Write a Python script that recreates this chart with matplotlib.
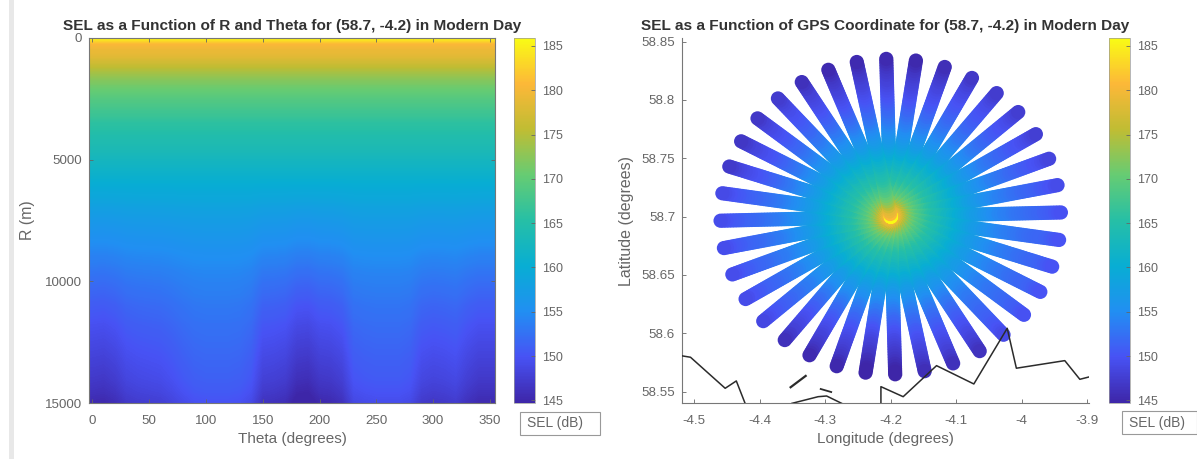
import numpy as np
import matplotlib
matplotlib.use("Agg")
import matplotlib.pyplot as plt
from matplotlib.colors import LinearSegmentedColormap
from matplotlib.patches import Rectangle

plt.rcParams["font.family"] = ["Liberation Sans", "DejaVu Sans"]

FIG_W = 1197
FIG_H = 459

theta_deg = [0, 10, 20, 30, 40, 50, 60, 70, 80, 90, 100, 110, 120, 130, 140, 150, 160, 170,
             180, 190, 200, 210, 220, 230, 240, 250, 260, 270, 280, 290, 300, 310, 320, 330, 340, 350]
range_m = [0, 250, 500, 750, 1000, 1250, 1500, 1750, 2000, 2250, 2500, 2750, 3000, 3250, 3500,
           3750, 4000, 4250, 4500, 4750, 5000, 5250, 5500, 5750, 6000, 6250, 6500, 6750, 7000,
           7250, 7500, 7750, 8000, 8250, 8500, 8750, 9000, 9250, 9500, 9750, 10000, 10250, 10500,
           10750, 11000, 11250, 11500, 11750, 12000, 12250, 12500, 12750, 13000, 13250, 13500,
           13750, 14000, 14250, 14500, 14750, 15000]

# SEL along a typical bearing
sel_by_range = [186, 180.6, 179.3, 178.5, 177, 175.2, 173.6, 172.2, 171, 170, 169, 168.3, 167.4, 166.8, 165.8,
                165.4, 164.6, 164.2, 163.7, 163.2, 162.5, 162, 161.4, 160.8, 160.2, 159.7, 159.2, 158.7, 158.1,
                157.7, 157.2, 156.8, 156.4, 156, 155.6, 155.2, 154.8, 154.5, 154.1, 153.8, 153.5, 153.2, 153,
                152.7, 152.4, 152.2, 152, 151.7, 151.5, 151.3, 151.1, 150.9, 150.7, 150.5, 150.3, 150.1, 149.9,
                149.6, 149.3, 148.9, 148.5]
# how strongly the bearing differences show at each range
bearing_weight = [0, 0, 0, 0, 0, 0, 0, 0, 0, 0, 0, 0, 0, 0, 0,
                  0, 0, 0, 0, 0, 0, 0, 0, 0, 0.02, 0.04, 0.06, 0.08, 0.1,
                  0.12, 0.14, 0.16, 0.18, 0.2, 0.22, 0.25, 0.28, 0.3, 0.33, 0.36, 0.4, 0.43, 0.47,
                  0.5, 0.53, 0.56, 0.59, 0.62, 0.65, 0.68, 0.71, 0.74, 0.77, 0.8, 0.83,
                  0.86, 0.89, 0.92, 0.95, 0.98, 1]
bearing_offset = [-3.2, -3.4, -2.8, -1.6, -1.2, -1, -0.8, -0.2, 0.6, 1.2, 1.4, 1.4, 1.4, 1.2, 0.4, -2.2, -2.4, -2.8,
                  -4.4, -4.6, -3.4, -3.2, -2.4, 0.2, 0.6, 0.8, 0.8, 0.8, 0.4, -1.4, -1.8, -1.6, -1.2, -2.4, -3.2, -3.2]

coast_main_lon = [-4.518, -4.506, -4.453, -4.436, -4.423]
coast_main_lat = [58.5806, 58.5795, 58.5529, 58.5592, 58.5406]
coast_bay_lon = [-4.351, -4.311, -4.298, -4.275]
coast_bay_lat = [58.540, 58.5457, 58.5463, 58.540]
islet_a_lon = [-4.353, -4.330]
islet_a_lat = [58.5538, 58.5635]
islet_b_lon = [-4.307, -4.291]
islet_b_lat = [58.5523, 58.5497]
coast_east_lon = [-4.215, -4.215, -4.181, -4.130, -4.073, -4.022, -4.008, -3.934, -3.911, -3.895]
coast_east_lat = [58.5406, 58.5543, 58.5457, 58.5723, 58.5566, 58.6043, 58.5701, 58.5766, 58.5606, 58.5629]

sel_ticks = [145, 150, 155, 160, 165, 170, 175, 180, 185]
theta_ticks = [0, 50, 100, 150, 200, 250, 300, 350]
range_ticks = [0, 5000, 10000, 15000]
lon_ticks = [-4.5, -4.4, -4.3, -4.2, -4.1, -4, -3.9]
lon_labels = ["-4.5", "-4.4", "-4.3", "-4.2", "-4.1", "-4", "-3.9"]
lat_ticks = [58.55, 58.6, 58.65, 58.7, 58.75, 58.8, 58.85]
lat_labels = ["58.55", "58.6", "58.65", "58.7", "58.75", "58.8", "58.85"]

SOURCE_LAT = 58.7
SOURCE_LON = -4.2
SEL_MIN = 144.7
SEL_MAX = 185.9
TEXT_GREY = "#666666"
EDGE_GREY = "#777777"

parula = LinearSegmentedColormap.from_list("parula_like", [
    (0.2422, 0.1504, 0.6603),
    (0.2810, 0.3228, 0.9579),
    (0.1300, 0.5600, 0.9500),
    (0.0300, 0.6800, 0.8300),
    (0.1500, 0.7500, 0.6500),
    (0.4000, 0.8000, 0.4500),
    (0.7500, 0.7400, 0.2000),
    (0.9900, 0.7200, 0.2200),
    (0.9769, 0.9839, 0.0805),
])


def axes_px(fig, left, top, right, bottom):
    return fig.add_axes([left / FIG_W, 1 - bottom / FIG_H, (right - left) / FIG_W, (bottom - top) / FIG_H])


def style_axes(ax):
    ax.tick_params(direction="in", length=3, width=0.6, colors=TEXT_GREY, labelsize=9.6, pad=5)
    ax.tick_params(axis="x", pad=9)
    for spine in ax.spines.values():
        spine.set_color(EDGE_GREY)
        spine.set_linewidth(0.8)


def add_colorbar(fig, mesh, left, right):
    cax = axes_px(fig, left, 38, right, 403)
    cbar = fig.colorbar(mesh, cax=cax, ticks=sel_ticks)
    cbar.ax.tick_params(direction="in", length=3, width=0.6, colors=TEXT_GREY, labelsize=9, pad=5)
    cbar.outline.set_edgecolor("#999999")
    cbar.outline.set_linewidth(0.5)


def add_unit_box(fig, left, top, right, bottom):
    fig.add_artist(Rectangle((left / FIG_W, 1 - bottom / FIG_H), (right - left) / FIG_W, (bottom - top) / FIG_H,
                             transform=fig.transFigure, facecolor="white", edgecolor="#999999", linewidth=0.8))
    fig.text((left + 7) / FIG_W, 1 - (top + bottom) / 2 / FIG_H, "SEL (dB)", color=TEXT_GREY,
             fontsize=10, va="center", ha="left")


def main():
    sel = np.array(sel_by_range)[:, None] + np.array(bearing_weight)[:, None] * np.array(bearing_offset)[None, :]

    fig = plt.figure(figsize=(FIG_W / 100, FIG_H / 100), dpi=100)
    fig.add_artist(Rectangle((9 / FIG_W, 0), 5 / FIG_W, 1, transform=fig.transFigure,
                             facecolor="#e8e8e8", edgecolor="none"))

    # left panel
    ax1 = axes_px(fig, 89, 38, 495, 403)
    image = ax1.imshow(sel, cmap=parula, vmin=SEL_MIN, vmax=SEL_MAX, aspect="auto", interpolation="bilinear",
                       extent=(-5, 355, 15125, -125))
    ax1.set_xlim(-3, 354.5)
    ax1.set_ylim(15000, 0)
    ax1.set_xticks(theta_ticks)
    ax1.set_yticks(range_ticks)
    style_axes(ax1)
    ax1.tick_params(top=True, right=True)
    ax1.set_title("SEL as a Function of R and Theta for (58.7, -4.2) in Modern Day", fontsize=11.1,
                  fontweight="bold", color="#333333", pad=6)
    ax1.set_xlabel("Theta (degrees)", fontsize=11, color=TEXT_GREY, labelpad=3)
    ax1.set_ylabel("R (m)", fontsize=11.4, color=TEXT_GREY, labelpad=7)
    add_colorbar(fig, image, 514, 535)
    add_unit_box(fig, 520, 412, 600, 435)

    # right panel: one spoke of markers per bearing
    ax2 = axes_px(fig, 682, 38, 1089, 403)
    bearing = np.radians(np.array(theta_deg) - 1.5)
    radius_deg = np.array(range_m) / 111000
    lon_scale = 1 / np.cos(np.radians(SOURCE_LAT))
    lons = SOURCE_LON + radius_deg[:, None] * np.sin(bearing)[None, :] * lon_scale
    lats = SOURCE_LAT + radius_deg[:, None] * np.cos(bearing)[None, :]
    ax2.scatter(lons.T.ravel(), lats.T.ravel(), c=sel.T.ravel(), s=105, cmap=parula, vmin=SEL_MIN, vmax=SEL_MAX,
                linewidths=0, clip_on=False, zorder=2)
    for lon, lat, lw in [
        (coast_main_lon, coast_main_lat, 1.1),
        (coast_bay_lon, coast_bay_lat, 1.1),
        (islet_a_lon, islet_a_lat, 1.6),
        (islet_b_lon, islet_b_lat, 1.3),
        (coast_east_lon, coast_east_lat, 1.1),
    ]:
        ax2.plot(lon, lat, color="#2b2b2b", linewidth=lw, zorder=3)
    ax2.set_xlim(-4.519, -3.897)
    ax2.set_ylim(58.5403, 58.853)
    ax2.set_xticks(lon_ticks, lon_labels)
    ax2.set_yticks(lat_ticks, lat_labels)
    style_axes(ax2)
    ax2.spines["top"].set_visible(False)
    ax2.spines["right"].set_visible(False)
    ax2.set_title("SEL as a Function of GPS Coordinate for (58.7, -4.2) in Modern Day", fontsize=11.1,
                  fontweight="bold", color="#333333", pad=6)
    ax2.set_xlabel("Longitude (degrees)", fontsize=11, color=TEXT_GREY, labelpad=3)
    ax2.set_ylabel("Latitude (degrees)", fontsize=11.5, color=TEXT_GREY, labelpad=5)
    add_colorbar(fig, image, 1109, 1130)
    add_unit_box(fig, 1122, 411, 1197, 434)

    fig.savefig("out.png", dpi=100)
    plt.close(fig)


if __name__ == "__main__":
    main()
